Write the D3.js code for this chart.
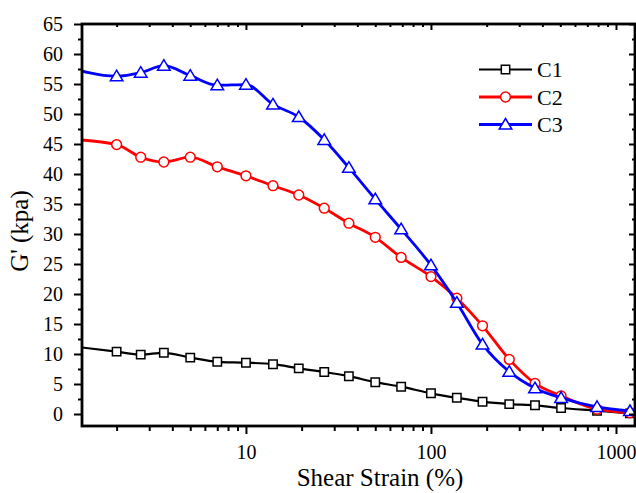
<!DOCTYPE html>
<html>
<head>
<meta charset="utf-8">
<script src="https://cdn.jsdelivr.net/npm/d3@7"></script>
<style>
  body { margin: 0; background: #fff; }
  .chart text { font-family: "Liberation Serif", "Times New Roman", serif; fill: #000; }
</style>
</head>
<body>
<div class="chart"></div>
<script>
// size of the picture and of the plot frame
var width = 636;
var height = 493;
var plotLeft = 82, plotRight = 635, plotTop = 24, plotBottom = 426;

// shear strain (%) of every measured point
var strain = [1, 2, 2.7, 3.6, 5, 7, 10, 14, 19.3, 26.5, 36, 50, 69, 100, 138, 190, 265, 365, 505, 790, 1190];
// G' (kpa) for each sample
var c1 = [11.5, 10.4, 9.9, 10.2, 9.4, 8.7, 8.55, 8.3, 7.6, 7.0, 6.3, 5.3, 4.55, 3.45, 2.7, 2.05, 1.65, 1.45, 1.0, 0.55, 0.1];
var c2 = [45.9, 44.9, 42.8, 42.0, 42.8, 41.2, 39.7, 38.05, 36.5, 34.3, 31.8, 29.45, 26.1, 22.9, 19.3, 14.7, 9.1, 5.1, 3.0, 0.8, 0.2];
var c3 = [58.2, 56.3, 56.9, 58.05, 56.4, 54.8, 54.9, 51.6, 49.5, 45.7, 41.05, 35.8, 30.8, 24.8, 18.55, 11.6, 7.05, 4.3, 2.7, 1.2, 0.5];
var names = ["C1", "C2", "C3"];

// tick values
var xMajor = [10, 100, 1000];
var xMinor = [2, 3, 4, 5, 6, 7, 8, 9, 20, 30, 40, 50, 60, 70, 80, 90, 200, 300, 400, 500, 600, 700, 800, 900];
var yMajor = d3.range(0, 66, 5);
var yMinor = d3.range(2.5, 65, 5);

var series = [
  {name: names[0], values: c1, color: "#000000", shape: "square", lw: 2.2},
  {name: names[1], values: c2, color: "#ff0000", shape: "circle", lw: 2.8},
  {name: names[2], values: c3, color: "#0000ff", shape: "triangle", lw: 2.8}
];

var xScale = d3.scaleLog()
               .domain([1.3, 1267])
               .range([plotLeft, plotRight]);
var yScale = d3.scaleLinear()
               .domain([-2, 65])
               .range([plotBottom, plotTop]);

var svg = d3.select(".chart")
            .append("svg")
            .attr("width", width)
            .attr("height", height);

svg.append("clipPath")
   .attr("id", "clip")
   .append("rect")
   .attr("x", plotLeft)
   .attr("y", plotTop)
   .attr("width", plotRight - plotLeft + 2)
   .attr("height", plotBottom - plotTop);

// marker shapes
function marker(shape) {
  if (shape == "square") return "M-4.2,-4.2H4.2V4.2H-4.2Z";
  if (shape == "circle") return "M4.9,0A4.9,4.9 0 1,1 -4.9,0A4.9,4.9 0 1,1 4.9,0Z";
  return "M0,-6L6.3,4.6H-6.3Z";
}

var line = d3.line()
             .x(function(d) { return xScale(d[0]); })
             .y(function(d) { return yScale(d[1]); })
             .curve(d3.curveMonotoneX);

var plot = svg.append("g").attr("clip-path", "url(#clip)");

series.forEach(function(s) {
  var pts = strain.map(function(x, i) { return [x, s.values[i]]; });
  plot.append("path")
      .datum(pts)
      .attr("d", line)
      .attr("fill", "none")
      .attr("stroke", s.color)
      .attr("stroke-width", s.lw);
  plot.selectAll(null)
      .data(pts)
      .enter()
      .append("path")
      .attr("d", marker(s.shape))
      .attr("transform", function(d) { return "translate(" + xScale(d[0]) + "," + yScale(d[1]) + ")"; })
      .attr("fill", "#fff")
      .attr("stroke", s.color)
      .attr("stroke-width", 1.5);
});

// axes
function styleAxis(g) {
  g.select(".domain").remove();
  g.selectAll(".tick line").attr("stroke", "#000").attr("stroke-width", 2);
  g.selectAll(".tick text").style("font-size", "20px");
}

svg.append("g")
   .attr("transform", "translate(0," + plotBottom + ")")
   .call(d3.axisBottom(xScale).tickValues(xMajor).tickSize(8).tickPadding(11).tickFormat(d3.format("d")))
   .call(styleAxis);
svg.append("g")
   .attr("transform", "translate(0," + plotBottom + ")")
   .call(d3.axisBottom(xScale).tickValues(xMinor).tickSize(5).tickFormat(""))
   .call(styleAxis);
svg.append("g")
   .attr("transform", "translate(0," + plotTop + ")")
   .call(d3.axisTop(xScale).tickValues(xMajor).tickSize(-6).tickFormat(""))
   .call(styleAxis);
svg.append("g")
   .attr("transform", "translate(0," + plotTop + ")")
   .call(d3.axisTop(xScale).tickValues(xMinor).tickSize(-3).tickFormat(""))
   .call(styleAxis);

svg.append("g")
   .attr("transform", "translate(" + plotLeft + ",0)")
   .call(d3.axisLeft(yScale).tickValues(yMajor).tickSize(8).tickPadding(11))
   .call(styleAxis);
svg.append("g")
   .attr("transform", "translate(" + plotLeft + ",0)")
   .call(d3.axisLeft(yScale).tickValues(yMinor).tickSize(4).tickFormat(""))
   .call(styleAxis);
svg.append("g")
   .attr("transform", "translate(" + plotRight + ",0)")
   .call(d3.axisRight(yScale).tickValues(yMajor).tickSize(-6).tickFormat(""))
   .call(styleAxis);
svg.append("g")
   .attr("transform", "translate(" + plotRight + ",0)")
   .call(d3.axisRight(yScale).tickValues(yMinor).tickSize(-3).tickFormat(""))
   .call(styleAxis);

// frame
svg.append("rect")
   .attr("x", plotLeft)
   .attr("y", plotTop)
   .attr("width", plotRight - plotLeft)
   .attr("height", plotBottom - plotTop)
   .attr("fill", "none")
   .attr("stroke", "#000")
   .attr("stroke-width", 2.8);

// axis titles
svg.append("text")
   .attr("x", 380)
   .attr("y", 486)
   .attr("text-anchor", "middle")
   .style("font-size", "25px")
   .text("Shear Strain (%)");
svg.append("text")
   .attr("transform", "translate(28,231) rotate(-90)")
   .attr("text-anchor", "middle")
   .style("font-size", "25px")
   .text("G' (kpa)");

// legend
var legend = svg.selectAll(".legend")
                .data(series)
                .enter()
                .append("g")
                .attr("class", "legend")
                .attr("transform", function(d, i) { return "translate(479," + (69.5 + i * 27.5) + ")"; });
legend.append("line")
      .attr("x1", 0)
      .attr("x2", 53)
      .attr("stroke", function(d) { return d.color; })
      .attr("stroke-width", function(d) { return d.lw; });
legend.append("path")
      .attr("d", function(d) { return marker(d.shape); })
      .attr("transform", "translate(26.5,0)")
      .attr("fill", "#fff")
      .attr("stroke", function(d) { return d.color; })
      .attr("stroke-width", 1.5);
legend.append("text")
      .attr("x", 58)
      .attr("y", 7.5)
      .style("font-size", "22px")
      .text(function(d) { return d.name; });
</script>
</body>
</html>
